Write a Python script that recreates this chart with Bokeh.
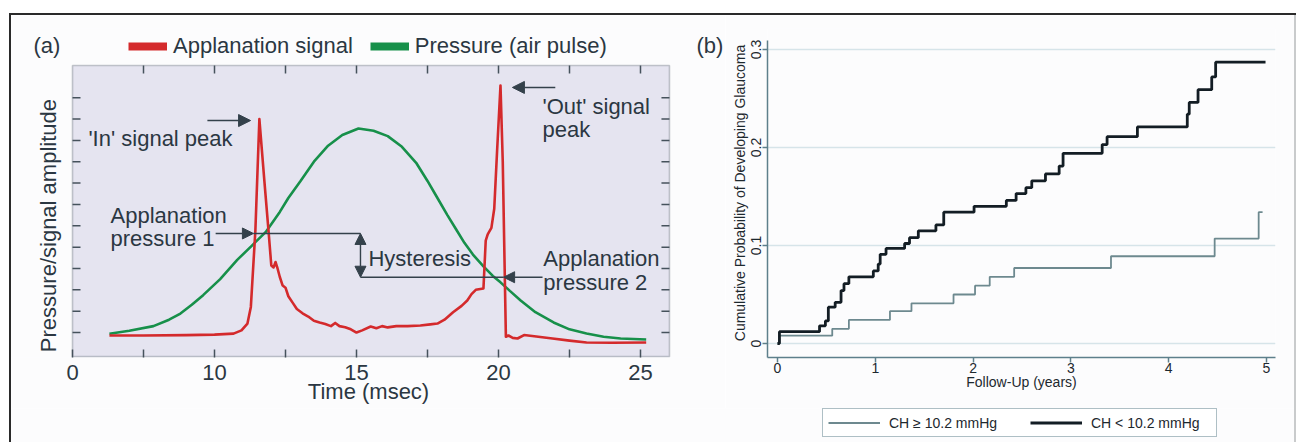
import math
from bokeh.plotting import figure
from bokeh.models import (Range1d, FixedTicker, Legend, LegendItem, Label,
                          Arrow, NormalHead, NumeralTickFormatter, Spacer, BoxAnnotation)
from bokeh.layouts import row, column
from bokeh.embed import file_html
from bokeh.resources import INLINE

FONT = "Liberation Sans"
NAN = float("nan")

# ---------------- Panel (a): Ocular Response Analyzer signal ----------------
signal_time = [6.3, 7.5, 9.0, 10.0, 10.67, 10.95, 11.16, 11.28, 11.36, 11.44,
               11.58, 11.75, 11.9, 12.0, 12.08, 12.15, 12.22, 12.3, 12.4, 12.5,
               12.6, 12.75, 12.9, 13.1, 13.3, 13.5, 13.7, 13.9, 14.1, 14.25,
               14.4, 14.6, 14.8, 15.0, 15.2, 15.5, 15.7, 15.9, 16.1, 16.4,
               16.8, 17.25, 17.6, 17.85, 18.1, 18.4, 18.7, 18.9, 19.05, 19.2,
               19.47, 19.55, 19.62, 19.75, 19.85, 19.95, 20.07, 20.15, 20.21, 20.26,
               20.35, 20.5, 20.67, 20.9, 21.4, 21.9, 22.5, 23.1, 24.0, 25.2]
signal_amp = [0.86, 0.86, 0.88, 0.9, 0.95, 1.1, 1.42, 2.2, 4.0, 5.8,
              11.0, 8.2, 5.8, 4.14, 4.05, 4.3, 4.0, 3.6, 3.2, 3.1,
              2.7, 2.4, 2.1, 1.9, 1.75, 1.55, 1.47, 1.4, 1.3, 1.45,
              1.3, 1.25, 1.15, 1.0, 1.1, 1.28, 1.2, 1.3, 1.24, 1.3,
              1.3, 1.33, 1.38, 1.42, 1.6, 1.95, 2.25, 2.5, 2.8, 3.0,
              3.06, 5.3, 5.6, 5.9, 6.8, 9.5, 12.57, 9.0, 4.5, 0.8,
              0.86, 0.75, 0.72, 0.88, 0.8, 0.72, 0.62, 0.53, 0.52, 0.53]

pulse_time = [6.3, 7.0, 7.85, 8.4, 8.8, 9.2, 9.6, 10.2, 10.8, 11.3,
              11.8, 12.3, 12.6, 13.03, 13.5, 14.0, 14.5, 15.07, 15.6, 16.1,
              16.6, 17.1, 17.5, 17.85, 18.2, 18.5, 18.8, 19.1, 19.47, 19.8,
              20.07, 20.4, 20.78, 21.3, 21.94, 22.5, 23.1, 23.7, 24.3, 25.2]
pulse_amp = [0.94, 1.08, 1.3, 1.6, 1.89, 2.3, 2.75, 3.5, 4.4, 5.05,
             5.7, 6.65, 7.3, 8.1, 9.0, 9.75, 10.25, 10.56, 10.45, 10.2,
             9.7, 8.95, 8.1, 7.3, 6.5, 5.85, 5.2, 4.65, 4.1, 3.65,
             3.35, 2.95, 2.5, 1.95, 1.47, 1.15, 0.95, 0.8, 0.72, 0.67]

a_xticks_major = [5, 10, 15, 20, 25]
a_xticks_minor = [7.5, 12.5, 17.5, 22.5]
a_xtick_labels = {5: "0"}
a_yticks = [1, 2, 3, 4, 5, 6, 7, 8, 9, 10, 11, 12]
a_legend_labels = ["Applanation signal", "Pressure (air pulse)"]

# annotation anchors (data units of panel a)
in_peak_arrow = (9.75, 11.27, 10.93)         # x_start, x_end, y
out_peak_arrow = (22.0, 20.49, 12.48)
ap1_arrow = (10.04, 11.37, 5.64)
ap2_arrow = (21.55, 20.18, 3.59)
hyst_x = 15.14

# ---------------- Panel (b): Kaplan-Meier curves ----------------
years_low_ch = [0, 0.02, 0.43, 0.49, 0.52, 0.59, 0.65, 0.68, 0.73, 0.98,
                1.03, 1.05, 1.11, 1.30, 1.35, 1.44, 1.62, 1.70, 2.01, 2.34,
                2.44, 2.54, 2.60, 2.74, 2.88, 2.92, 3.32, 3.37, 3.68, 4.19,
                4.21, 4.30, 4.44, 4.48, 4.99]
prob_low_ch = [0, 0.012, 0.018, 0.023, 0.037, 0.042, 0.054, 0.061, 0.068, 0.074,
               0.081, 0.091, 0.097, 0.102, 0.108, 0.115, 0.121, 0.134, 0.140, 0.146,
               0.153, 0.159, 0.166, 0.173, 0.181, 0.194, 0.203, 0.211, 0.221, 0.234,
               0.246, 0.259, 0.272, 0.287, 0.287]
years_high_ch = [0, 0.02, 0.56, 0.73, 1.15, 1.37, 1.80, 2.02, 2.17, 2.42, 3.41, 4.47, 4.92, 4.96]
prob_high_ch = [0, 0.008, 0.015, 0.024, 0.033, 0.041, 0.050, 0.059, 0.068, 0.077, 0.089, 0.107, 0.134, 0.134]

b_xticks = [0, 1, 2, 3, 4, 5]
b_yticks = [0, 0.1, 0.2, 0.3]
b_legend_labels = ["CH \u2265 10.2 mmHg", "CH < 10.2 mmHg"]

# ---------------- styles / geometry ----------------
TXT_A = "#2b3742"
LINE_A = "#34414b"
FRAME_A = "#46525c"
LAVENDER = "#e5e4f0"
RED = "#d42a2c"
GREEN = "#17904a"
AXIS_B = "#5d7f8b"
TXT_B = "#1d282e"
GRID_B = "#d6e4e9"
GRAY_B = "#6d898f"
BLACK_B = "#131d24"
BG = "#fcfcfd"
FS_A = "22px"
FS_B = "14px"
H_TOP = 393              # height of the two panels
H_LEG = 34               # height of the strip that holds the panel-b legend
W1, W2 = 714, 569
BOX = dict(left=5, right=26.02, bottom=-0.13, top=13.51)   # lavender plotting box
TICK_X = 0.282           # 8 px in panel a x units
TICK_Y = 0.375           # 8 px in panel a y units

# ================= Panel (a) =================
p1 = figure(width=W1, height=H_TOP, output_backend="svg", toolbar_location=None,
            x_range=Range1d(2.852, 27.993), y_range=Range1d(-0.17, 15.241),
            y_axis_location=None,
            min_border_left=0, min_border_right=0, min_border_top=13, min_border_bottom=51,
            background_fill_color=BG, border_fill_color=BG, outline_line_color=None)
p1.grid.visible = False
p1.add_layout(BoxAnnotation(left=BOX["left"], right=BOX["right"], bottom=BOX["bottom"],
                            top=BOX["top"], fill_color=LAVENDER, fill_alpha=1,
                            line_color=FRAME_A, line_width=1.6, level="underlay"))

xa = p1.xaxis[0]
xa.ticker = FixedTicker(ticks=a_xticks_major, minor_ticks=a_xticks_minor)
xa.major_label_overrides = a_xtick_labels
xa.axis_line_color = None
xa.major_tick_in = 8
xa.major_tick_out = 0
xa.minor_tick_in = 8
xa.minor_tick_out = 0
xa.major_tick_line_color = FRAME_A
xa.minor_tick_line_color = FRAME_A
xa.major_tick_line_width = 1.5
xa.minor_tick_line_width = 1.5
xa.major_label_text_font = FONT
xa.major_label_text_font_size = FS_A
xa.major_label_text_color = TXT_A
xa.major_label_standoff = 7
xa.axis_label = "Time (msec)"
xa.axis_label_text_font = FONT
xa.axis_label_text_font_size = FS_A
xa.axis_label_text_font_style = "normal"
xa.axis_label_text_color = TXT_A
xa.axis_label_standoff = -4

# inward ticks on the top, left and right edges of the box
top_ticks = a_xticks_major[1:] + a_xticks_minor
n_t, n_y = len(top_ticks), len(a_yticks)
p1.segment(x0=top_ticks, y0=[BOX["top"]] * n_t, x1=top_ticks, y1=[BOX["top"] - TICK_Y] * n_t,
           line_color=FRAME_A, line_width=1.5)
p1.segment(x0=[BOX["left"]] * n_y, y0=a_yticks, x1=[BOX["left"] + TICK_X] * n_y, y1=a_yticks,
           line_color=FRAME_A, line_width=1.5)
p1.segment(x0=[BOX["right"]] * n_y, y0=a_yticks, x1=[BOX["right"] - TICK_X] * n_y, y1=a_yticks,
           line_color=FRAME_A, line_width=1.5)

p1.line(pulse_time, pulse_amp, line_color=GREEN, line_width=2.6)
p1.line(signal_time, signal_amp, line_color=RED, line_width=2.6, line_join="round")

leg_red = p1.line([NAN], [NAN], line_color=RED, line_width=8)
leg_green = p1.line([NAN], [NAN], line_color=GREEN, line_width=8)
legend_a = Legend(items=[LegendItem(label=a_legend_labels[0], renderers=[leg_red]),
                         LegendItem(label=a_legend_labels[1], renderers=[leg_green])],
                  orientation="horizontal", location=(117, 298),
                  glyph_width=39, glyph_height=24, label_height=24, label_standoff=6, spacing=17,
                  padding=0, margin=0, border_line_color=None, background_fill_alpha=0,
                  label_text_font=FONT, label_text_font_size=FS_A, label_text_color=TXT_A)
p1.add_layout(legend_a)


def head(size=12):
    return NormalHead(size=size, fill_color=LINE_A, line_color=LINE_A, line_width=1)


p1.add_layout(Arrow(x_start=in_peak_arrow[0], y_start=in_peak_arrow[2],
                    x_end=in_peak_arrow[1], y_end=in_peak_arrow[2],
                    end=head(), line_color=LINE_A, line_width=1.4))
p1.add_layout(Arrow(x_start=out_peak_arrow[0], y_start=out_peak_arrow[2],
                    x_end=out_peak_arrow[1], y_end=out_peak_arrow[2],
                    end=head(), line_color=LINE_A, line_width=1.4))
p1.add_layout(Arrow(x_start=ap1_arrow[0], y_start=ap1_arrow[2],
                    x_end=ap1_arrow[1], y_end=ap1_arrow[2],
                    end=head(11), line_color=LINE_A, line_width=1.4))
p1.add_layout(Arrow(x_start=ap2_arrow[0], y_start=ap2_arrow[2],
                    x_end=ap2_arrow[1], y_end=ap2_arrow[2],
                    end=head(11), line_color=LINE_A, line_width=1.4))
p1.segment(x0=[ap1_arrow[1], hyst_x], y0=[ap1_arrow[2], ap2_arrow[2]],
           x1=[hyst_x, ap2_arrow[1]], y1=[ap1_arrow[2], ap2_arrow[2]],
           line_color=LINE_A, line_width=1.4)
p1.add_layout(Arrow(x_start=hyst_x, y_start=ap1_arrow[2], x_end=hyst_x, y_end=ap2_arrow[2],
                    start=head(11), end=head(11), line_color=LINE_A, line_width=1.4))

annot = [
    ("'In' signal peak", 5.56, 10.08),
    ("Applanation", 6.34, 6.48),
    ("pressure 1", 6.34, 5.40),
    ("Hysteresis", 15.42, 4.47),
    ("Applanation", 21.58, 4.47),
    ("pressure 2", 21.58, 3.34),
    ("'Out' signal", 21.55, 11.59),
    ("peak", 21.55, 10.51),
    ("(a)", 3.627, 14.44),
    ("(b)", 26.97, 14.44),
]
for t, x, y in annot:
    p1.add_layout(Label(x=x, y=y, text=t, text_font=FONT, text_font_size=FS_A,
                        text_color=TXT_A, text_baseline="middle", text_align="left"))
p1.add_layout(Label(x=4.155, y=6.01, text="Pressure/signal amplitude", angle=math.pi / 2,
                    text_font=FONT, text_font_size=FS_A, text_color=TXT_A,
                    text_baseline="middle", text_align="center"))

# ================= Panel (b) =================
p2 = figure(width=W2, height=H_TOP, output_backend="svg", toolbar_location=None,
            x_range=Range1d(-0.102, 5.092), y_range=Range1d(-0.0143, 0.3214),
            min_border_left=42, min_border_right=19, min_border_top=13, min_border_bottom=51,
            background_fill_color=BG, border_fill_color=BG, outline_line_color=None)
p2.xgrid.visible = False
p2.ygrid.ticker = FixedTicker(ticks=b_yticks)
p2.ygrid.grid_line_color = GRID_B
p2.ygrid.grid_line_width = 1.3

for ax in (p2.xaxis[0], p2.yaxis[0]):
    ax.axis_line_color = AXIS_B
    ax.axis_line_width = 1.5
    ax.major_tick_out = 5
    ax.major_tick_in = 0
    ax.major_tick_line_color = AXIS_B
    ax.major_tick_line_width = 1.5
    ax.minor_tick_line_color = None
    ax.major_label_text_font = FONT
    ax.major_label_text_font_size = FS_B
    ax.major_label_text_color = TXT_B
    ax.axis_label_text_font = FONT
    ax.axis_label_text_font_size = FS_B
    ax.axis_label_text_font_style = "normal"
    ax.axis_label_text_color = TXT_B

xb = p2.xaxis[0]
xb.ticker = FixedTicker(ticks=b_xticks)
xb.major_label_standoff = 0
xb.axis_label = "Follow-Up (years)"
xb.axis_label_standoff = -2

yb = p2.yaxis[0]
yb.ticker = FixedTicker(ticks=b_yticks)
yb.bounds = (-0.0143, 0.309)
yb.formatter = NumeralTickFormatter(format="0.[0]")
yb.major_label_orientation = "parallel"
yb.major_label_standoff = 1
yb.axis_label = "Cumulative Probability of Developing Glaucoma"
yb.axis_label_standoff = 1

p2.step(years_high_ch, prob_high_ch, mode="after", line_color=GRAY_B, line_width=1.8)
p2.step(years_low_ch, prob_low_ch, mode="after", line_color=BLACK_B, line_width=2.8)

# ================= legend strip for panel (b) =================
p3 = figure(width=W1 + W2, height=H_LEG, output_backend="svg", toolbar_location=None,
            x_range=Range1d(0, 1), y_range=Range1d(0, 1),
            x_axis_location=None, y_axis_location=None,
            min_border_left=0, min_border_right=0, min_border_top=0, min_border_bottom=0,
            background_fill_color=BG, border_fill_color=BG, outline_line_color=None)
p3.grid.visible = False
leg_gray = p3.line([NAN], [NAN], line_color=GRAY_B, line_width=1.8)
leg_black = p3.line([NAN], [NAN], line_color=BLACK_B, line_width=2.8)
legend_b = Legend(items=[LegendItem(label=b_legend_labels[0], renderers=[leg_gray]),
                         LegendItem(label=b_legend_labels[1], renderers=[leg_black])],
                  orientation="horizontal", location=(811, 5),
                  glyph_width=52, glyph_height=17, label_height=17, label_width=120,
                  label_standoff=9, spacing=21, padding=5, margin=0,
                  border_line_color=AXIS_B, border_line_width=1.5,
                  background_fill_color="white", background_fill_alpha=1,
                  label_text_font=FONT, label_text_font_size=FS_B, label_text_color=TXT_B)
p3.add_layout(legend_b)

# ================= page layout with the outer frame =================
W_IN = W1 + W2
H_IN = H_TOP + H_LEG
bar_top = Spacer(width=W_IN + 4, height=2, background="#2a2a2a")
bar_left = Spacer(width=2, height=H_IN, background="#2a2a2a")
bar_right = Spacer(width=2, height=H_IN, background="#c9cbcc")
inner = column(row(p1, p2), p3)
framed = column(Spacer(width=W_IN + 4, height=13), bar_top, row(bar_left, inner, bar_right))
layout = row(Spacer(width=9, height=442), framed)

open("out.html", "w").write(file_html(layout, INLINE))
